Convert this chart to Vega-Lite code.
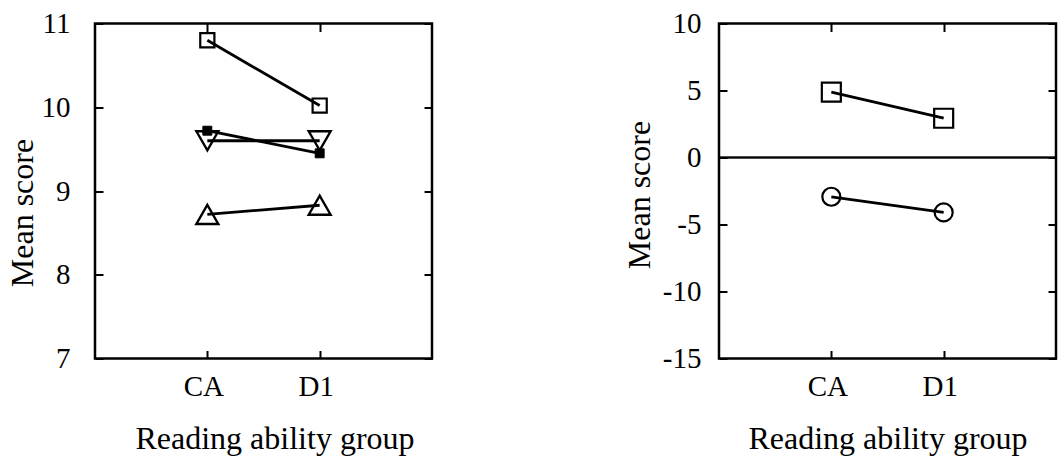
{
  "$schema": "https://vega.github.io/schema/vega-lite/v6.json",
  "padding": {"left": 4, "top": 7.5, "right": 5, "bottom": 0},
  "background": "white",
  "config": {
    "view": {"stroke": "black", "strokeWidth": 2.5},
    "axis": {
      "grid": false, "domain": false,
      "labelFont": "Liberation Serif", "labelFontSize": 29, "labelColor": "black",
      "titleFont": "Liberation Serif", "titleFontSize": 32, "titleFontWeight": "normal", "titleColor": "black",
      "tickColor": "black", "tickWidth": 2, "tickSize": -8
    }
  },
  "resolve": {"scale": {"shape": "independent", "size": "independent", "fill": "independent"}},
  "datasets": {
    "left": [
      {"series": "s1", "group": "CA", "score": 10.8},
      {"series": "s1", "group": "D1", "score": 10.02},
      {"series": "s2", "group": "CA", "score": 9.72},
      {"series": "s2", "group": "D1", "score": 9.45},
      {"series": "s3", "group": "CA", "score": 9.6},
      {"series": "s3", "group": "D1", "score": 9.6},
      {"series": "s4", "group": "CA", "score": 8.72},
      {"series": "s4", "group": "D1", "score": 8.83}
    ],
    "right": [
      {"series": "r1", "group": "CA", "score": 4.88},
      {"series": "r1", "group": "D1", "score": 2.93},
      {"series": "r2", "group": "CA", "score": -2.93},
      {"series": "r2", "group": "D1", "score": -4.1}
    ]
  },
  "spacing": 187,
  "hconcat": [
    {
      "width": 337, "height": 335,
      "data": {"name": "left"},
      "encoding": {
        "x": {"field": "group", "type": "nominal", "scale": {"type": "point", "domain": ["CA", "D1"], "padding": 1}},
        "y": {"field": "score", "type": "quantitative", "scale": {"domain": [7, 11], "nice": false, "zero": false}}
      },
      "layer": [
        {
          "mark": {"type": "line", "stroke": "black", "strokeWidth": 2.8},
          "encoding": {
            "x": {"field": "group", "type": "nominal",
                  "axis": {"orient": "bottom", "title": "Reading ability group", "labelAngle": 0, "labelPadding": 22, "labelOffset": -4, "titlePadding": 22, "titleX": 179.5}},
            "y": {"field": "score", "type": "quantitative",
                  "axis": {"orient": "left", "values": [7, 8, 9, 10, 11], "title": "Mean score", "labelPadding": 33, "titlePadding": 2, "titleY": 189}},
            "detail": {"field": "series"}
          }
        },
        {
          "transform": [{"filter": "datum.series === 's1'"}],
          "mark": {"type": "point", "shape": "square", "size": 200, "filled": false, "stroke": "black", "strokeWidth": 2.2, "opacity": 1},
          "encoding": {
            "x": {"field": "group", "type": "nominal", "axis": {"orient": "top", "labels": false, "title": null}},
            "y": {"field": "score", "type": "quantitative", "axis": {"orient": "right", "labels": false, "title": null, "values": [7, 8, 9, 10, 11]}}
          }
        },
        {
          "transform": [{"filter": "datum.series === 's2'"}],
          "mark": {"type": "point", "shape": "square", "size": 80, "filled": true, "fill": "black", "stroke": "black", "strokeWidth": 1, "opacity": 1},
          "encoding": {
            "x": {"field": "group", "type": "nominal", "axis": null},
            "y": {"field": "score", "type": "quantitative", "axis": null}
          }
        },
        {
          "transform": [{"filter": "datum.series === 's3'"}],
          "mark": {"type": "point", "shape": "triangle-down", "size": 480, "filled": false, "stroke": "black", "strokeWidth": 2.4, "opacity": 1},
          "encoding": {
            "x": {"field": "group", "type": "nominal", "axis": null},
            "y": {"field": "score", "type": "quantitative", "axis": null}
          }
        },
        {
          "transform": [{"filter": "datum.series === 's4'"}],
          "mark": {"type": "point", "shape": "triangle-up", "size": 480, "filled": false, "stroke": "black", "strokeWidth": 2.4, "opacity": 1},
          "encoding": {
            "x": {"field": "group", "type": "nominal", "axis": null},
            "y": {"field": "score", "type": "quantitative", "axis": null}
          }
        }
      ],
      "resolve": {"axis": {"x": "independent", "y": "independent"}}
    },
    {
      "width": 337, "height": 335,
      "data": {"name": "right"},
      "layer": [
        {
          "mark": {"type": "rule", "stroke": "black", "strokeWidth": 1.5},
          "encoding": {"y": {"datum": 0, "type": "quantitative", "axis": null}}
        },
        {
          "mark": {"type": "line", "stroke": "black", "strokeWidth": 2.8},
          "encoding": {
            "x": {"field": "group", "type": "nominal", "scale": {"type": "point", "domain": ["CA", "D1"], "padding": 1},
                  "axis": {"orient": "bottom", "title": "Reading ability group", "labelAngle": 0, "labelPadding": 22, "labelOffset": -4, "titlePadding": 22}},
            "y": {"field": "score", "type": "quantitative", "scale": {"domain": [-15, 10], "nice": false, "zero": false},
                  "axis": {"orient": "left", "values": [-15, -10, -5, 0, 5, 10], "labelExpr": "datum.value < 0 ? '-' + abs(datum.value) : datum.label", "title": "Mean score", "labelPadding": 26, "titlePadding": 6, "titleY": 171}},
            "detail": {"field": "series"}
          }
        },
        {
          "mark": {"type": "point", "filled": true, "fill": "transparent", "stroke": "black", "strokeWidth": 2.2, "opacity": 1},
          "encoding": {
            "x": {"field": "group", "type": "nominal", "axis": {"orient": "top", "labels": false, "title": null}},
            "y": {"field": "score", "type": "quantitative", "axis": {"orient": "right", "labels": false, "title": null, "values": [-15, -10, -5, 0, 5, 10]}},
            "shape": {"field": "series", "type": "nominal", "scale": {"domain": ["r1", "r2"], "range": ["square", "circle"]}, "legend": null},
            "size": {"field": "series", "type": "nominal", "scale": {"domain": ["r1", "r2"], "range": [361, 324]}, "legend": null}
          }
        }
      ],
      "resolve": {"axis": {"x": "independent", "y": "independent"}}
    }
  ]
}
